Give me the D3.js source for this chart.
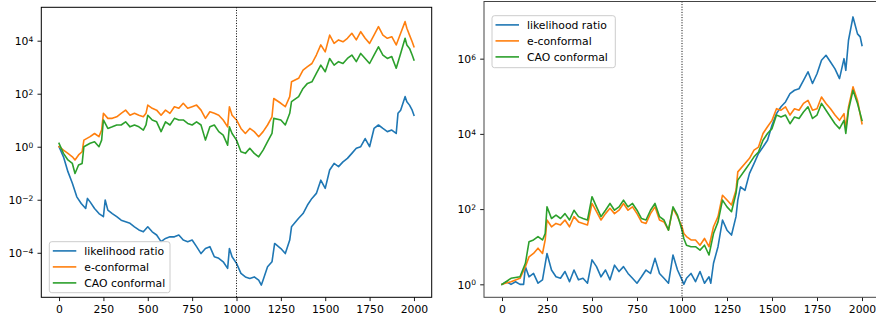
<!DOCTYPE html>
<html><head><meta charset="utf-8">
<script src="https://cdn.jsdelivr.net/npm/d3@7"></script>
<style>
body{margin:0;background:#fff}
svg{display:block}
text{font-family:"DejaVu Sans",sans-serif;fill:#000}
</style>
</head><body>
<svg id="c" width="876" height="320"></svg>
<script>
// ---------- shared ----------
const seriesNames = ["likelihood ratio", "e-conformal", "CAO conformal"];
const seriesColors = ["#1f77b4", "#ff7f0e", "#2ca02c"];
const xTicks = [0, 250, 500, 750, 1000, 1250, 1500, 1750, 2000];
const changePoint = 1000;

// ---------- left panel (log10 of values) ----------
const leftLrT = [0,25,50,75,100,125,150,160,175,200,225,250,260,275,300,325,350,375,400,425,450,475,500,525,550,575,600,625,650,675,700,725,750,775,800,825,850,875,900,925,950,960,975,1000,1025,1050,1075,1100,1125,1140,1150,1175,1200,1215,1250,1275,1300,1310,1350,1375,1400,1425,1450,1475,1500,1525,1550,1575,1600,1625,1650,1675,1700,1725,1750,1775,1800,1825,1850,1875,1900,1910,1925,1950,1960,1975,1990,2000];
const leftLrLog10 = [0,-0.38,-0.94,-1.38,-1.89,-2.14,-2.33,-1.95,-2.08,-2.33,-2.52,-2.64,-2.01,-2.39,-2.52,-2.64,-2.77,-2.83,-2.89,-3.02,-3.14,-3.21,-3.02,-3.21,-3.33,-3.58,-3.46,-3.40,-3.40,-3.33,-3.52,-3.58,-3.52,-3.77,-4.03,-3.84,-3.77,-4.15,-4.21,-4.34,-4.59,-3.84,-4.15,-4.40,-4.78,-4.91,-4.97,-4.91,-5.03,-5.22,-5.03,-4.53,-4.34,-3.65,-3.84,-4.03,-3.52,-3.02,-2.70,-2.52,-2.20,-1.95,-1.76,-1.26,-1.57,-0.88,-0.63,-0.75,-0.57,-0.44,-0.25,-0.06,0,0.31,0,0.69,0.82,0.69,0.57,0.63,0.50,1.26,1.38,1.89,1.70,1.57,1.38,1.19];
const leftConfT = [0,25,50,75,90,110,130,140,175,200,225,240,250,275,300,325,350,375,400,425,450,475,490,500,525,550,575,600,625,650,675,700,725,750,775,800,825,850,875,900,925,950,960,975,1000,1025,1050,1075,1100,1125,1150,1175,1200,1210,1250,1275,1300,1310,1350,1375,1400,1425,1450,1475,1500,1525,1550,1575,1600,1625,1650,1675,1700,1725,1750,1775,1800,1825,1850,1875,1900,1925,1950,1960,1975,1990,2000];
const leftEConfLog10 = [0,-0.13,-0.25,-0.38,-0.50,-0.31,-0.19,0.25,0.38,0.50,0.38,0.63,1.26,1.07,1.07,1.13,1.26,1.38,1.19,1.26,1.19,1.13,1.26,1.57,1.45,1.38,1.19,1.38,1.26,1.51,1.45,1.64,1.45,1.51,1.57,1.38,1.07,1.32,1.26,1.19,1.01,0.75,1.51,1.19,1.01,0.69,0.50,0.69,0.57,0.38,0.57,0.82,1.13,1.82,1.64,1.51,1.89,2.45,2.58,2.89,3.02,3.14,3.46,3.84,3.58,4.21,3.90,4.03,3.96,4.09,4.28,4.03,4.34,4.09,3.90,4.21,4.53,4.21,4.09,4.15,3.84,4.28,4.72,4.47,4.21,3.96,3.77];
const leftCaoLog10 = [0.13,-0.25,-0.50,-0.63,-1.01,-0.69,-0.63,0,0.13,0.19,0,0.25,1.01,0.69,0.75,0.82,0.82,0.94,0.75,0.82,0.75,0.63,0.82,1.19,1.01,0.94,0.57,0.94,0.82,1.07,1.01,1.01,0.88,0.82,0.94,0.82,0.25,0.75,0.82,0.57,0.44,0.06,0.75,0.50,0.25,-0.19,-0.25,-0.06,-0.25,-0.38,-0.13,0.19,0.50,1.07,1.01,0.82,1.26,1.70,1.89,2.20,2.39,2.45,2.77,3.08,2.83,3.33,3.08,3.21,3.14,3.33,3.46,3.21,3.52,3.33,3.14,3.46,3.77,3.46,3.33,3.40,2.96,3.52,4.09,3.84,3.71,3.46,3.27];
const leftYTickExps = [-4, -2, 0, 2, 4];
const leftYDomainLog10 = [-5.68, 5.26];

// ---------- right panel (log10 of values) ----------
const rightLrT = [0,25,50,75,100,120,130,150,175,200,225,250,275,300,325,350,375,400,425,450,475,500,525,550,575,600,625,650,675,700,725,750,775,800,825,850,875,900,925,950,975,1000,1010,1025,1050,1075,1100,1125,1150,1160,1175,1200,1225,1250,1275,1300,1310,1325,1350,1375,1400,1425,1450,1475,1500,1525,1550,1575,1600,1625,1650,1675,1700,1725,1750,1775,1800,1825,1850,1875,1900,1910,1925,1950,1960,1975,1990,2000];
const rightLrLog10 = [0,0.07,0,0.07,0,0,0.47,0.20,0.29,0.03,0.12,0.82,0.38,0.20,0.16,0.34,0.07,0.38,0.12,0.16,0.03,0.65,0.47,0.20,0.38,0.12,0.51,0.34,0.47,0.29,0.16,0.03,0.20,0.38,0.29,0.69,0.29,0.16,0.03,0.78,0.38,0.12,0,0.16,0.29,0.07,0.34,0.03,0.20,0.03,0.56,1.00,1.71,1.44,1.31,1.80,2.24,2.59,2.50,2.95,3.21,3.48,3.65,3.83,4.23,4.54,4.72,4.85,5.07,5.16,5.20,5.42,5.65,5.34,5.60,5.96,6.09,5.91,5.73,5.47,6.00,5.69,6.49,7.11,6.93,6.66,6.58,6.35];
const rightConfT = [0,50,100,130,150,175,200,225,240,250,275,300,325,350,375,400,425,450,475,500,525,550,575,600,625,650,675,700,725,750,775,800,825,850,875,900,925,950,975,1000,1010,1025,1050,1075,1100,1125,1150,1175,1200,1225,1250,1275,1300,1310,1350,1375,1400,1425,1450,1475,1500,1525,1550,1575,1600,1625,1650,1675,1700,1725,1750,1775,1800,1825,1850,1875,1900,1910,1925,1950,1975,2000];
const rightEConfLog10 = [0,0.07,0.16,0.47,0.73,0.82,0.96,0.82,1.18,1.71,1.53,1.62,1.58,1.71,1.53,1.80,1.66,1.62,1.58,2.15,1.93,1.71,1.88,2.02,1.88,1.97,2.15,1.97,2.06,1.88,1.66,1.62,1.88,2.06,1.71,1.66,1.44,2.02,1.80,1.53,1.35,1.27,1.18,1.18,1.04,1.22,1.00,1.53,1.80,2.37,2.24,2.11,2.50,2.99,3.21,3.35,3.57,3.65,4.01,4.19,4.36,4.67,4.63,4.72,4.50,4.67,4.63,4.81,4.89,4.63,4.67,4.98,4.81,4.67,4.50,4.36,4.54,4.14,4.72,5.25,4.89,4.27];
const rightCaoLog10 = [0,0.16,0.20,0.56,1.13,1.18,1.27,1.18,1.35,2.06,1.75,1.84,1.75,1.88,1.71,1.97,1.80,1.75,1.71,2.33,2.06,1.80,1.97,2.15,1.97,2.06,2.24,2.06,2.15,1.97,1.75,1.71,1.97,2.15,1.80,1.71,1.44,2.06,1.84,1.44,1.22,1.04,1.00,1.00,0.91,1.04,0.78,1.35,1.66,2.24,2.06,1.93,2.42,2.77,3.04,3.21,3.39,3.52,3.83,4.01,4.14,4.50,4.45,4.50,4.27,4.45,4.41,4.58,4.72,4.41,4.50,4.81,4.63,4.45,4.27,4.14,4.36,4.01,4.63,5.16,4.81,4.36];
const rightYTickExps = [0, 2, 4, 6];
const rightYDomainLog10 = [-0.345, 7.52];

// ---------- drawing ----------
const svg = d3.select("#c");
const FONT = 10.8;

function zip(ts, logs) { return ts.map((t, i) => ({ t, v: Math.pow(10, logs[i]) })); }

function panel(cfg) {
  const g = svg.append("g");
  const x = d3.scaleLinear().domain([-100, 2100]).range([cfg.x0, cfg.x1]);
  const y = d3.scaleLog().domain(cfg.yDomain.map(e => Math.pow(10, e))).range([cfg.y1, cfg.y0]);
  const clipId = "clip" + cfg.id;
  svg.append("defs").append("clipPath").attr("id", clipId)
    .append("rect").attr("x", cfg.x0).attr("y", cfg.y0).attr("width", cfg.x1 - cfg.x0).attr("height", cfg.y1 - cfg.y0);

  const line = d3.line().x(d => x(d.t)).y(d => y(d.v));
  const lines = g.append("g").attr("clip-path", `url(#${clipId})`);
  cfg.series.forEach((s, i) => {
    lines.append("path").datum(s).attr("d", line)
      .attr("fill", "none").attr("stroke", seriesColors[i])
      .attr("stroke-width", 1.6).attr("stroke-linejoin", "round").attr("stroke-linecap", "square");
  });
  lines.append("line").attr("x1", x(changePoint)).attr("x2", x(changePoint))
    .attr("y1", cfg.y0).attr("y2", cfg.y1)
    .attr("stroke", "#000").attr("stroke-width", 1).attr("stroke-dasharray", "1,1.6");

  // x axis
  const xa = g.append("g").attr("transform", `translate(0,${cfg.y1})`)
    .call(d3.axisBottom(x).tickValues(xTicks).tickSize(3.8).tickPadding(4.2).tickFormat(d3.format("d")));
  xa.select(".domain").remove();
  xa.selectAll("line").attr("stroke", "#000").attr("stroke-width", 0.9);
  xa.selectAll("text").attr("font-size", FONT).attr("font-family", "DejaVu Sans").attr("fill", "#000");

  // y axis
  const ya = g.append("g").attr("transform", `translate(${cfg.x0},0)`)
    .call(d3.axisLeft(y).tickValues(cfg.yTicks.map(e => Math.pow(10, e))).tickSize(3.8).tickPadding(4.2).tickFormat(() => ""));
  ya.select(".domain").remove();
  ya.selectAll("line").attr("stroke", "#000").attr("stroke-width", 0.9);
  ya.selectAll(".tick text").each(function(d) {
    const e = Math.round(Math.log10(d));
    const t = d3.select(this).attr("font-size", FONT).attr("font-family", "DejaVu Sans").attr("fill", "#000").attr("dy", "0.36em");
    t.append("tspan").text("10");
    t.append("tspan").attr("dy", "-0.45em").attr("font-size", FONT * 0.7).text(e < 0 ? "\u2212" + (-e) : String(e));
  });

  // frame
  g.append("rect").attr("x", cfg.x0).attr("y", cfg.y0).attr("width", cfg.x1 - cfg.x0).attr("height", cfg.y1 - cfg.y0)
    .attr("fill", "none").attr("stroke", cfg.frame).attr("stroke-width", 1);

  // legend
  const lg = g.append("g");
  lg.append("rect").attr("x", cfg.lx0).attr("y", cfg.ly0).attr("width", cfg.lx1 - cfg.lx0).attr("height", cfg.ly1 - cfg.ly0)
    .attr("rx", 2.5).attr("fill", "#fff").attr("fill-opacity", 0.8).attr("stroke", "#ccc").attr("stroke-width", 1);
  seriesNames.forEach((n, i) => {
    const yy = cfg.ly0 + 9.2 + i * 16.0;
    lg.append("line").attr("x1", cfg.lx0 + 3.5).attr("x2", cfg.lx0 + 27).attr("y1", yy).attr("y2", yy)
      .attr("stroke", seriesColors[i]).attr("stroke-width", 1.6);
    lg.append("text").attr("x", cfg.lx0 + 35).attr("y", yy).attr("dy", "0.36em").attr("font-size", FONT).text(n);
  });
}

panel({
  id: "L", x0: 41.3, x1: 431.7, y0: 7.3, y1: 297.3, frame: "#000",
  yDomain: leftYDomainLog10, yTicks: leftYTickExps,
  series: [zip(leftLrT, leftLrLog10), zip(leftConfT, leftEConfLog10), zip(leftConfT, leftCaoLog10)],
  lx0: 49.3, lx1: 170, ly0: 241.7, ly1: 292.7
});
panel({
  id: "R", x0: 484, x1: 880, y0: 1.5, y1: 297.3, frame: "#444",
  yDomain: rightYDomainLog10, yTicks: rightYTickExps,
  series: [zip(rightLrT, rightLrLog10), zip(rightConfT, rightEConfLog10), zip(rightConfT, rightCaoLog10)],
  lx0: 492, lx1: 615.3, ly0: 15.7, ly1: 67.7
});
</script>
</body></html>
